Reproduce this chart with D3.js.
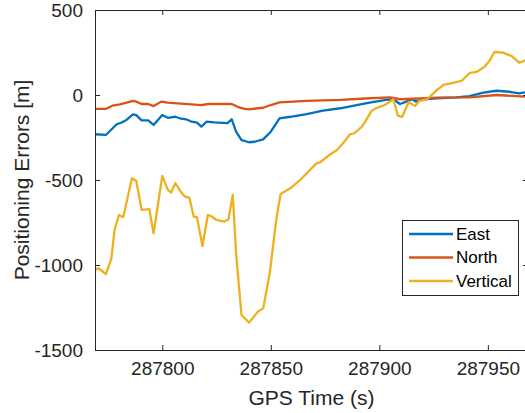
<!DOCTYPE html>
<html>
<head>
<meta charset="utf-8">
<script src="https://cdn.jsdelivr.net/npm/d3@7"></script>
<style>
  body { margin: 0; background: #fff; }
  svg { display: block; font-family: "Liberation Sans", Arial, sans-serif; }
</style>
</head>
<body>
<svg id="chart" width="525" height="413"></svg>
<script>
// GPS time (s) and error (m)
const eastTime = [287769, 287774, 287779, 287781, 287783.5, 287786.5, 287788, 287790.5, 287793.5, 287796, 287800, 287802.5, 287806, 287808, 287811, 287813.5, 287816, 287818, 287820.5, 287824, 287830, 287832, 287834, 287836.5, 287840, 287842.5, 287846.5, 287850, 287854, 287859, 287866.5, 287874, 287882, 287889.5, 287895.5, 287903, 287906.5, 287909.5, 287912.5, 287915, 287917, 287920, 287926.5, 287935.5, 287941.5, 287948, 287954, 287960, 287964.5, 287968.5];
const eastErr  = [-231, -235, -172, -163, -147, -114, -118, -149, -149, -176, -118, -134, -128, -137, -143, -157, -163, -186, -157, -161, -166, -143, -216, -265, -278, -275, -261, -216, -137, -128, -112, -92, -78, -59, -45, -29, -25, -53, -39, -25, -39, -25, -19, -14, -6, 14, 25, 19, 10, 19];

const northTime = [287769, 287774, 287777, 287780.5, 287784, 287786.5, 287788, 287790.5, 287793.5, 287796, 287799.5, 287802.5, 287807, 287818, 287821, 287832, 287835, 287838, 287840, 287846.5, 287850, 287854, 287866.5, 287882, 287895.5, 287905, 287909.5, 287915.5, 287926.5, 287941.5, 287954, 287968.5];
const northErr  = [-82, -82, -63, -55, -43, -34, -39, -53, -53, -65, -39, -45, -49, -59, -53, -53, -71, -82, -84, -75, -59, -43, -35, -29, -19, -14, -25, -22, -16, -14, 0, -10];

const vertTime = [287769, 287770.5, 287774, 287776.5, 287778, 287780, 287782, 287786, 287788, 287790.5, 287794, 287796, 287800, 287802.5, 287804, 287806, 287808.5, 287810.5, 287812.5, 287814.5, 287816, 287818.5, 287821, 287822.5, 287825, 287828.5, 287830.5, 287832.5, 287834, 287836.5, 287840, 287844, 287846.5, 287849.5, 287852.5, 287854.5, 287859, 287863.5, 287871, 287872.5, 287877, 287880.5, 287883.5, 287886.5, 287888.5, 287892, 287893.5, 287896.5, 287898.5, 287902.5, 287906.5, 287908.5, 287910.5, 287913.5, 287916.5, 287918.5, 287922, 287926.5, 287929.5, 287934, 287938, 287941.5, 287945, 287948.5, 287951, 287953, 287957, 287961, 287964.5, 287968.5];
const vertErr  = [-1029, -1019, -1053, -966, -794, -706, -719, -490, -504, -676, -671, -813, -476, -555, -575, -519, -569, -598, -604, -716, -719, -888, -706, -712, -735, -745, -731, -588, -931, -1294, -1339, -1275, -1255, -1049, -735, -582, -549, -500, -402, -398, -353, -324, -281, -231, -225, -186, -157, -92, -78, -59, -25, -121, -129, -41, -65, -34, -25, 29, 59, 72, 84, 128, 137, 166, 206, 253, 249, 229, 190, 210];

const xTicks = [287800, 287850, 287900, 287950];
const yTicks = [-1500, -1000, -500, 0, 500];
const seriesNames = ["East", "North", "Vertical"];
const seriesColors = ["#0072BD", "#D95319", "#EDB120"];

const series = [
  eastTime.map((t, i) => ({ t: t, v: eastErr[i] })),
  northTime.map((t, i) => ({ t: t, v: northErr[i] })),
  vertTime.map((t, i) => ({ t: t, v: vertErr[i] }))
];

const svg = d3.select("#chart");
const axisColor = "#262626";
// plain hyphen for negatives, as in the original figure
const plainFormat = d => String(d);

// plot box (right edge runs just past the window)
const margin = { top: 10, left: 95 },
    plotRight = 528,
    plotBottom = 350;

const x = d3.scaleLinear()
    .domain([287769, 287968.5])
    .range([margin.left, plotRight]);

const y = d3.scaleLinear()
    .domain([-1500, 500])
    .range([plotBottom, margin.top]);

svg.append("defs").append("clipPath").attr("id", "clip")
  .append("rect")
    .attr("x", margin.left).attr("y", margin.top)
    .attr("width", plotRight - margin.left)
    .attr("height", plotBottom - margin.top);

// data lines
const line = d3.line().x(d => x(d.t)).y(d => y(d.v));
const lines = svg.append("g").attr("clip-path", "url(#clip)");
series.forEach((s, i) => {
  lines.append("path")
    .datum(s)
    .attr("d", line)
    .attr("fill", "none")
    .attr("stroke", seriesColors[i])
    .attr("stroke-width", 2.3)
    .attr("stroke-linejoin", "round");
});

// axes, ticks point inwards like MATLAB
const tickLen = 5;
const bottomAxis = svg.append("g")
    .attr("transform", `translate(0,${plotBottom})`)
    .call(d3.axisBottom(x).tickValues(xTicks).tickSizeInner(-tickLen).tickSizeOuter(0).tickPadding(12).tickFormat(plainFormat));
const topAxis = svg.append("g")
    .attr("transform", `translate(0,${margin.top})`)
    .call(d3.axisTop(x).tickValues(xTicks).tickSizeInner(-tickLen).tickSizeOuter(0).tickFormat(""));
const leftAxis = svg.append("g")
    .attr("transform", `translate(${margin.left},0)`)
    .call(d3.axisLeft(y).tickValues(yTicks).tickSizeInner(-tickLen).tickSizeOuter(0).tickPadding(12).tickFormat(plainFormat));
const rightAxis = svg.append("g")
    .attr("transform", `translate(${plotRight},0)`)
    .call(d3.axisRight(y).tickValues(yTicks).tickSizeInner(-tickLen).tickSizeOuter(0).tickFormat(""));

[bottomAxis, topAxis, leftAxis, rightAxis].forEach(g => {
  g.selectAll("path, line").attr("stroke", axisColor).attr("stroke-width", 1);
  g.selectAll("text")
    .attr("fill", axisColor)
    .style("font-size", "19px")
    .style("font-family", "'Liberation Sans', Arial, sans-serif");
});
bottomAxis.selectAll("text").attr("dy", "0.71em");

// axis titles
svg.append("text")
    .attr("x", (margin.left + plotRight) / 2)
    .attr("y", 405)
    .attr("text-anchor", "middle")
    .attr("fill", axisColor)
    .style("font-size", "21px")
    .text("GPS Time (s)");

svg.append("text")
    .attr("transform", `translate(29,${(margin.top + plotBottom) / 2}) rotate(-90)`)
    .attr("text-anchor", "middle")
    .attr("fill", axisColor)
    .style("font-size", "21px")
    .text("Positioning Errors [m]");

// legend
const legend = svg.append("g");
legend.append("rect")
    .attr("x", 402.5).attr("y", 220.5)
    .attr("width", 116).attr("height", 75)
    .attr("fill", "#fff")
    .attr("stroke", axisColor)
    .attr("stroke-width", 1);

seriesNames.forEach((name, i) => {
  const rowY = 234 + i * 23.5;
  legend.append("line")
    .attr("x1", 409).attr("x2", 453)
    .attr("y1", rowY).attr("y2", rowY)
    .attr("stroke", seriesColors[i])
    .attr("stroke-width", 2.3);
  legend.append("text")
    .attr("x", 456)
    .attr("y", rowY)
    .attr("dy", "0.35em")
    .attr("fill", "#000")
    .style("font-size", "17px")
    .text(name);
});
</script>
</body>
</html>
